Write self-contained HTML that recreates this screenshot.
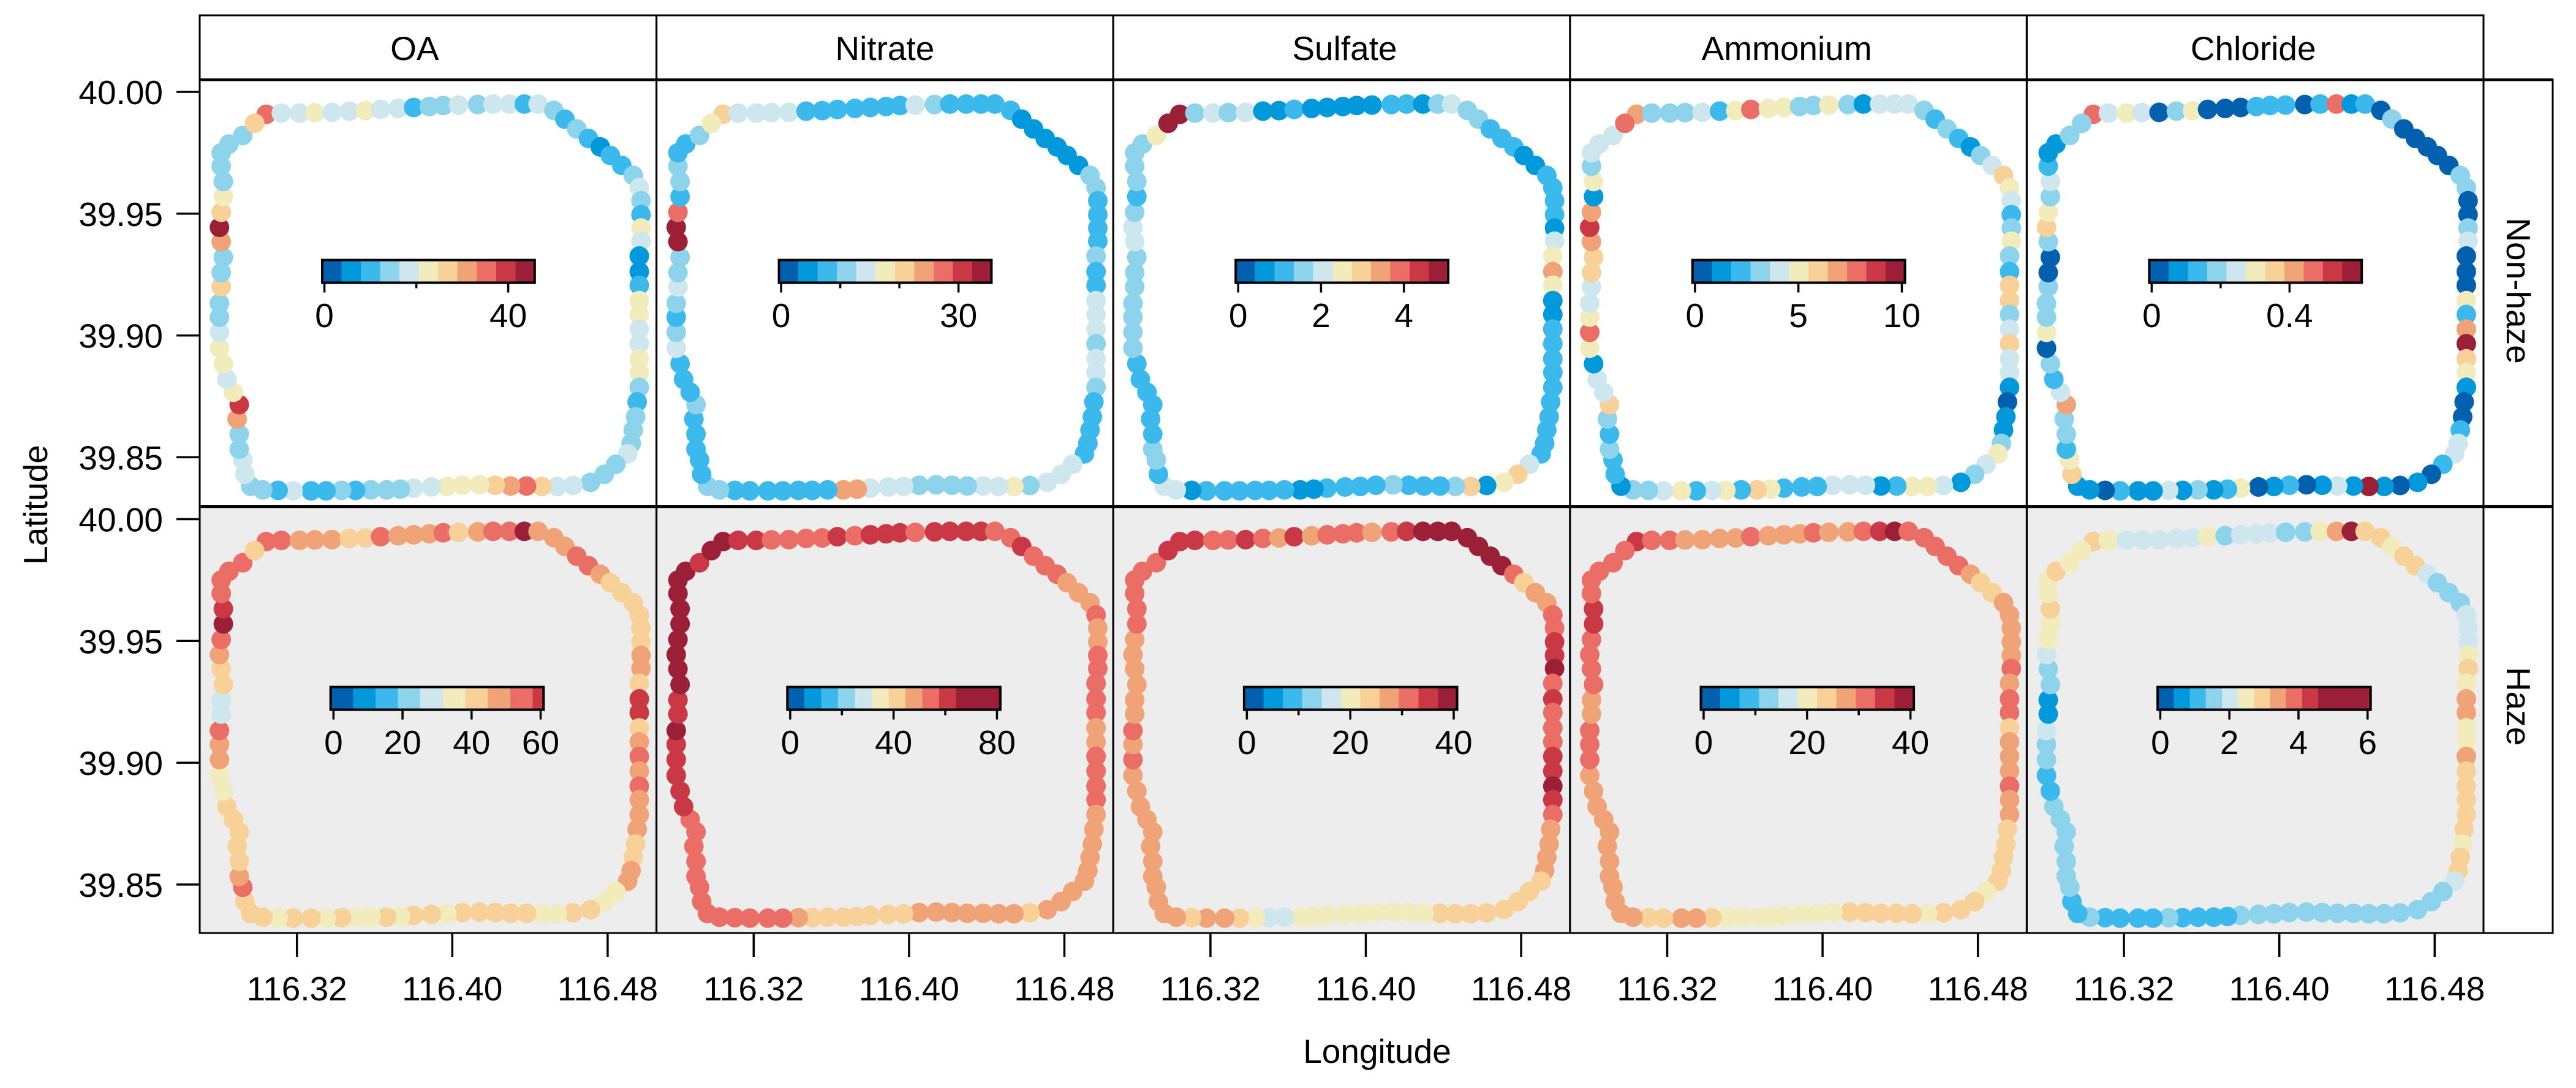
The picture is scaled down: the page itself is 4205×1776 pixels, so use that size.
<!DOCTYPE html>
<html lang="en">
<head>
<meta charset="utf-8">
<title>Aerosol composition along ring road</title>
<style>
html,body{margin:0;padding:0;background:#fff;}
svg{display:block;font-family:"Liberation Sans",Arial,sans-serif;fill:#000;}
</style>
</head>
<body>
<svg id="chart" xmlns="http://www.w3.org/2000/svg" width="4205" height="1776" viewBox="0 0 4205 1776"></svg>
<script>
const speciesLabels = ["OA", "Nitrate", "Sulfate", "Ammonium", "Chloride"];
const conditionLabels = ["Non-haze", "Haze"];
const xTickValues = [116.32, 116.40, 116.48];
const xTickLabels = ["116.32", "116.40", "116.48"];
const yTickValues = [40.00, 39.95, 39.90, 39.85];
const yTickLabels = ["40.00", "39.95", "39.90", "39.85"];
const xAxisTitle = "Longitude";
const yAxisTitle = "Latitude";
const palette = ["#0360ae","#0299dc","#3cb9ec","#8dd3ec","#cee7ef","#f2ebbb","#f7d197","#f1a378","#ea6e66","#cb3845","#9c1f38"];

const routeLon = [116.3042,116.3120,116.3213,116.3292,116.3381,116.3470,116.3553,116.3631,116.3721,116.3801,
116.3882,116.3953,116.4032,116.4131,116.4210,116.4294,116.4371,116.4442,116.4523,116.4580,
116.4641,116.4701,116.4762,116.4814,116.4873,116.4932,116.4963,116.4972,116.4972,116.4972,
116.4972,116.4963,116.4963,116.4963,116.4963,116.4963,116.4963,116.4963,116.4963,116.4963,
116.4963,116.4952,116.4944,116.4932,116.4921,116.4903,116.4842,116.4783,116.4712,116.4622,
116.4540,116.4461,116.4382,116.4300,116.4221,116.4140,116.4052,116.3972,116.3893,116.3800,
116.3733,116.3662,116.3581,116.3502,116.3430,116.3350,116.3273,116.3180,116.3103,116.3024,
116.2962,116.2932,116.2921,116.2903,116.2903,116.2892,116.2903,116.2873,116.2839,116.2821,
116.2801,116.2801,116.2801,116.2801,116.2810,116.2810,116.2821,116.2810,116.2801,116.2810,
116.2821,116.2821,116.2810,116.2810,116.2850,116.2921,116.2982];
const routeLat = [39.9908,39.9913,39.9913,39.9915,39.9916,39.9921,39.9923,39.9928,39.9932,39.9936,
39.9940,39.9944,39.9946,39.9948,39.9950,39.9950,39.9950,39.9950,39.9924,39.9888,
39.9848,39.9809,39.9774,39.9739,39.9698,39.9657,39.9607,39.9553,39.9496,39.9441,
39.9387,39.9326,39.9262,39.9206,39.9143,39.9086,39.9026,39.8966,39.8904,39.8848,
39.8787,39.8727,39.8666,39.8612,39.8557,39.8514,39.8471,39.8430,39.8397,39.8384,
39.8380,39.8380,39.8382,39.8382,39.8385,39.8387,39.8385,39.8380,39.8378,39.8373,
39.8369,39.8366,39.8366,39.8364,39.8364,39.8362,39.8362,39.8362,39.8364,39.8366,
39.8381,39.8430,39.8489,39.8533,39.8595,39.8657,39.8716,39.8767,39.8820,39.8884,
39.8948,39.9013,39.9075,39.9132,39.9200,39.9258,39.9321,39.9385,39.9444,39.9506,
39.9570,39.9632,39.9695,39.9750,39.9786,39.9821,39.9871];

const oaNonHaze = [35.3,18.4,18.4,22.6,18.4,18.4,22.6,18.4,18.4,10,
14.2,14.2,18.4,14.2,18.4,18.4,10,18.4,14.2,10,
14.2,10,5.8,10,10,14.2,18.4,14.2,10,22.6,
18.4,5.8,5.8,10,22.6,22.6,18.4,18.4,22.6,22.6,
14.2,10,14.2,14.2,14.2,18.4,14.2,14.2,14.2,18.4,
18.4,26.8,35.3,31,26.8,22.6,22.6,22.6,18.4,18.4,
14.2,14.2,14.2,10,14.2,10,10,18.4,10,14.2,
14.2,18.4,18.4,14.2,14.2,31,39.5,22.6,18.4,22.6,
22.6,18.4,14.2,14.2,26.8,14.2,14.2,31,43.7,26.8,
22.6,14.2,14.2,14.2,14.2,14.2,26.8];
const nitrateNonHaze = [20.9,14.3,14.3,14.3,14.3,7.8,7.8,7.8,7.8,7.8,
7.8,7.8,14.3,11.1,7.8,7.8,7.8,7.8,7.8,4.5,
4.5,4.5,4.5,4.5,4.5,11.1,11.1,7.8,7.8,7.8,
7.8,11.1,7.8,7.8,14.3,14.3,14.3,11.1,14.3,14.3,
11.1,7.8,7.8,7.8,7.8,7.8,14.3,14.3,14.3,11.1,
17.6,14.3,14.3,11.1,11.1,11.1,11.1,14.3,14.3,14.3,
24.1,24.1,7.8,7.8,7.8,7.8,7.8,7.8,7.8,11.1,
11.1,7.8,7.8,7.8,7.8,7.8,11.1,7.8,7.8,7.8,
14.3,11.1,7.8,11.1,14.3,11.1,11.1,33.9,33.9,27.4,
7.8,11.1,11.1,7.8,7.8,11.1,17.6];
const sulfateNonHaze = [4.84,1.57,2.04,1.57,2.04,0.64,0.64,1.11,0.64,0.64,
0.64,0.64,0.64,1.11,1.11,0.64,1.57,2.04,1.57,1.57,
1.11,1.11,1.11,0.64,0.64,1.11,1.11,1.11,1.11,0.64,
2.04,2.51,3.44,2.51,0.64,0.64,1.11,1.11,1.11,1.11,
1.11,1.11,1.11,1.11,1.11,1.11,2.04,2.97,2.51,0.64,
2.97,1.57,1.11,1.11,1.11,1.57,1.11,1.11,1.11,1.11,
0.64,0.64,1.11,1.11,1.11,1.11,1.11,1.11,0.64,2.04,
2.04,1.11,1.57,1.57,1.11,1.11,1.11,1.11,1.11,1.11,
1.57,1.57,1.57,1.57,1.57,1.57,1.57,2.04,2.04,1.57,
1.11,1.57,1.57,1.57,1.57,2.51,4.84];
const ammoniumNonHaze = [6.88,3.15,3.15,3.15,4.08,2.2,5.02,7.82,5.02,5.02,
3.15,3.15,5.02,3.15,1.28,4.08,4.08,4.08,3.15,2.2,
3.15,2.2,1.28,3.15,4.08,5.95,5.02,4.08,2.2,3.15,
5.02,3.15,2.2,5.95,5.95,3.15,4.08,5.95,4.08,4.08,
1.28,0.35,1.28,1.28,3.15,5.02,4.08,3.15,1.28,4.08,
5.02,5.02,2.2,1.28,4.08,4.08,4.08,2.2,2.2,2.2,
5.02,5.95,2.2,5.02,4.08,2.2,5.02,4.08,3.15,3.15,
1.28,2.2,2.2,3.15,2.2,3.15,5.95,4.08,4.08,1.28,
5.02,7.82,5.02,4.08,4.08,5.95,5.95,6.88,8.75,6.88,
1.28,5.02,3.15,4.08,4.08,4.08,7.82];
const chlorideNonHaze = [0.469,0.245,0.301,0.245,0.021,0.189,0.301,0.021,0.021,0.021,
0.133,0.133,0.133,0.021,0.133,0.469,0.077,0.133,0.021,0.189,
0.021,0.021,0.021,0.021,0.021,0.189,0.189,0.021,0.021,0.189,
0.245,0.021,0.021,0.021,0.301,0.133,0.413,0.581,0.357,0.301,
0.077,0.021,0.021,0.133,0.245,0.245,0.133,0.021,0.077,0.021,
0.077,0.581,0.077,0.245,0.077,0.021,0.133,0.077,0.021,0.301,
0.133,0.077,0.189,0.077,0.245,0.077,0.077,0.133,0.021,0.077,
0.077,0.357,0.301,0.133,0.189,0.189,0.413,0.245,0.133,0.189,
0.021,0.301,0.189,0.189,0.189,0.021,0.021,0.189,0.357,0.301,
0.189,0.245,0.133,0.077,0.077,0.189,0.189];
const oaHaze = [54.4,54.4,47.9,47.9,47.9,41.4,41.4,54.4,47.9,47.9,
47.9,54.4,41.4,47.9,54.4,54.4,66,47.9,47.9,47.9,
54.4,54.4,47.9,41.4,41.4,41.4,41.4,41.4,41.4,47.9,
47.9,41.4,59,59,41.4,47.9,54.4,47.9,54.4,47.9,
47.9,47.9,41.4,41.4,47.9,47.9,34.9,34.9,41.4,41.4,
34.9,34.9,41.4,41.4,41.4,41.4,41.4,34.9,41.4,41.4,
34.9,41.4,34.9,34.9,41.4,34.9,41.4,41.4,34.9,41.4,
41.4,41.4,54.4,47.9,41.4,41.4,41.4,41.4,41.4,34.9,
34.9,47.9,47.9,54.4,28.4,28.4,41.4,41.4,47.9,54.4,
66,59,54.4,54.4,54.4,54.4,41.4];
const nitrateHaze = [72,60.8,60.8,54.3,54.3,54.3,54.3,60.8,54.3,60.8,
60.8,60.8,54.3,60.8,60.8,60.8,60.8,54.3,54.3,60.8,
54.3,54.3,54.3,47.8,47.8,47.8,54.3,47.8,47.8,54.3,
54.3,54.3,54.3,54.3,47.8,47.8,54.3,54.3,54.3,54.3,
47.8,47.8,47.8,47.8,47.8,47.8,47.8,47.8,47.8,41.3,
47.8,47.8,47.8,47.8,47.8,47.8,47.8,41.3,41.3,41.3,
41.3,41.3,41.3,41.3,47.8,54.3,54.3,54.3,54.3,54.3,
54.3,54.3,54.3,54.3,54.3,54.3,54.3,54.3,60.8,60.8,
60.8,60.8,60.8,72,60.8,60.8,72,72,72,72,
72,72,72,72,72,60.8,72];
const sulfateHaze = [35,35,31.3,31.3,35,31.3,27.5,35,27.5,31.3,
31.3,31.3,27.5,31.3,35,38.8,38.8,38.8,38.8,38.8,
38.8,38.8,31.3,23.8,27.5,27.5,31.3,31.3,35,35,
38.8,31.3,35,31.3,31.3,31.3,35,35,38.8,35,
31.3,27.5,27.5,27.5,27.5,23.8,23.8,23.8,23.8,23.8,
23.8,23.8,23.8,20.1,20.1,20.1,20.1,20.1,20.1,20.1,
20.1,20.1,16.3,16.3,20.1,23.8,27.5,27.5,23.8,27.5,
27.5,27.5,27.5,27.5,27.5,27.5,27.5,27.5,27.5,27.5,
27.5,31.3,27.5,31.3,27.5,27.5,27.5,27.5,27.5,27.5,
31.3,31.3,31.3,31.3,31.3,31.3,35];
const ammoniumHaze = [35,31.3,31.3,27.5,27.5,27.5,27.5,31.3,27.5,27.5,
27.5,31.3,27.5,27.5,31.3,35,38.8,31.3,31.3,31.3,
31.3,31.3,27.5,23.8,23.8,27.5,27.5,27.5,27.5,27.5,
31.3,27.5,31.3,31.3,23.8,27.5,27.5,27.5,31.3,27.5,
27.5,23.8,23.8,23.8,23.8,23.8,20.1,23.8,23.8,23.8,
20.1,23.8,23.8,23.8,23.8,23.8,20.1,20.1,20.1,20.1,
20.1,20.1,20.1,20.1,23.8,27.5,27.5,23.8,23.8,27.5,
27.5,27.5,27.5,27.5,27.5,27.5,27.5,27.5,27.5,27.5,
27.5,31.3,31.3,31.3,27.5,27.5,31.3,31.3,31.3,31.3,
35,35,31.3,31.3,31.3,31.3,31.3];
const chlorideHaze = [2.94,2.48,2.01,2.01,2.01,2.01,2.01,2.48,1.55,2.01,
2.01,2.01,1.55,1.55,2.48,3.41,5.3,2.94,2.94,2.48,
2.94,2.94,2.01,1.55,1.55,1.55,2.01,2.01,2.01,2.48,
2.94,2.48,3.41,3.41,2.48,2.48,3.41,2.94,2.94,2.94,
2.94,2.94,2.48,2.94,2.94,2.01,1.55,1.55,1.55,1.55,
1.55,1.55,1.55,1.55,1.55,1.55,1.55,1.55,1.55,1.55,
1.09,1.09,1.09,1.09,1.55,1.09,1.09,1.09,1.09,1.55,
1.09,1.09,1.55,1.55,1.55,1.55,1.55,1.55,1.55,1.09,
1.09,1.55,1.55,2.01,0.62,0.62,1.55,1.55,2.01,2.48,
2.48,2.94,2.48,2.48,2.94,2.48,2.48];

const nonHazeSeries = [oaNonHaze, nitrateNonHaze, sulfateNonHaze, ammoniumNonHaze, chlorideNonHaze];
const hazeSeries = [oaHaze, nitrateHaze, sulfateHaze, ammoniumHaze, chlorideHaze];

const nonHazeScaleLow = [-0.48, -0.36, -0.059, -0.118, -0.0071];
const nonHazeScaleHigh = [45.76, 35.57, 5.07, 10.15, 0.6094];
const nonHazeBinWidth = [4.204, 3.267, 0.4664, 0.9336, 0.056];
const hazeScaleLow = [-0.83, -1.09, -0.53, -0.53, -0.076];
const hazeScaleHigh = [60.85, 81.3, 40.65, 40.65, 6.087];
const hazeBinWidth = [6.5, 6.52, 3.744, 3.744, 0.4645];

const nonHazeMajorTicks = [[0,40],[0,30],[0,2,4],[0,5,10],[0,0.4]];
const nonHazeMinorTicks = [[20],[10,20],[],[],[0.2]];
const hazeMajorTicks = [[0,20,40,60],[0,40,80],[0,20,40],[0,20,40],[0,2,4,6]];
const hazeMinorTicks = [[],[20,60],[10,30],[10,30],[]];

const svg = document.getElementById('chart');
const NS = 'http://www.w3.org/2000/svg';
const PANEL_LEFT = 326, PANEL_W = 745.6, STRIP_TOP = 25;
const ROW_TOPS = [130, 827, 1523];
const ROW_ORIGINS = [150, 847.5];
const BAR_LEFT = [200, 213.7];
const BAR_W = [346.8, 347.6];
const BAR_TOP = 294.5, BAR_H = 37;
const RIGHT_STRIP = 113;
const DOT_R = 16;
const STRIP_LABEL_SHIFT = [-22, 0, 5, -19, -3];
const ROW_LABEL_SHIFT = [-4, -22];

function make(tag, attrs, parent) {
  const el = document.createElementNS(NS, tag);
  for (const k in attrs) el.setAttribute(k, attrs[k]);
  parent.appendChild(el);
  return el;
}
function xScale(lon, col) { return PANEL_LEFT + col * PANEL_W + 158.7 + (lon - 116.32) * 3170; }
function yScale(lat, row) { return ROW_ORIGINS[row] + (40 - lat) * 3976; }
function binIndex(v, lo, step) { return Math.max(0, Math.min(10, Math.floor((v - lo) / step))); }

const panelRight = PANEL_LEFT + 5 * PANEL_W;

for (let r = 0; r < 2; r++) {
  const lows = r ? hazeScaleLow : nonHazeScaleLow;
  const highs = r ? hazeScaleHigh : nonHazeScaleHigh;
  const steps = r ? hazeBinWidth : nonHazeBinWidth;
  const majors = r ? hazeMajorTicks : nonHazeMajorTicks;
  const minors = r ? hazeMinorTicks : nonHazeMinorTicks;
  const series = r ? hazeSeries : nonHazeSeries;
  for (let c = 0; c < 5; c++) {
    const left = PANEL_LEFT + c * PANEL_W;
    const top = ROW_TOPS[r];
    const g = make('g', {}, svg);
    
    
    const bg = make('rect', {x: left, y: top, width: PANEL_W, height: ROW_TOPS[r + 1] - top, fill: r ? '#ededed' : '#ffffff'}, g);
    
    

    series[c].forEach(function (v, i) {
      const dot = make('circle', {cx: xScale(routeLon[i], c).toFixed(2), cy: yScale(routeLat[i], r).toFixed(2), r: DOT_R, fill: palette[binIndex(v, lows[c], steps[c])]}, g);
      
      
    });

    const barG = make('g', {}, g);
    
    
    const bx0 = left + BAR_LEFT[r], bw = BAR_W[r], by = top + BAR_TOP;
    const barX = function (v) { return bx0 + (v - lows[c]) / (highs[c] - lows[c]) * bw; };
    for (let b = 0; b < 11; b++) {
      const start = lows[c] + b * steps[c];
      if (start >= highs[c]) break;
      const end = b === 10 ? highs[c] : Math.min(highs[c], start + steps[c]);
      const seg = make('rect', {x: barX(start).toFixed(2), y: by, width: (barX(end) - barX(start)).toFixed(2), height: BAR_H, fill: palette[b], 'shape-rendering': 'crispEdges'}, barG);
      
      
    }
    const frame = make('rect', {x: bx0, y: by, width: bw, height: BAR_H, fill: 'none', stroke: '#000', 'stroke-width': 4}, barG);
    
    
    minors[c].forEach(function (v) {
      const t = make('line', {x1: barX(v), x2: barX(v), y1: by + BAR_H, y2: by + BAR_H + 9, stroke: '#000', 'stroke-width': 3.5}, barG);
      
      
    });
    majors[c].forEach(function (v) {
      const t = make('line', {x1: barX(v), x2: barX(v), y1: by + BAR_H, y2: by + BAR_H + 16, stroke: '#000', 'stroke-width': 3.5}, barG);
      
      
      const lab = make('text', {x: barX(v), y: top + 404, 'text-anchor': 'middle', 'font-size': 55}, barG);
      lab.textContent = String(v);
      
      
    });
  }
}

/* strip boxes and panel frames */
const frameG = make('g', {fill: 'none', stroke: '#000', 'stroke-width': 3}, svg);


for (let c = 0; c < 5; c++) {
  const left = PANEL_LEFT + c * PANEL_W;
  make('rect', {x: left, y: STRIP_TOP, width: PANEL_W, height: ROW_TOPS[0] - STRIP_TOP}, frameG);
  make('rect', {x: left, y: ROW_TOPS[0], width: PANEL_W, height: ROW_TOPS[1] - ROW_TOPS[0]}, frameG);
  make('rect', {x: left, y: ROW_TOPS[1], width: PANEL_W, height: ROW_TOPS[2] - ROW_TOPS[1]}, frameG);
}
make('rect', {x: panelRight, y: ROW_TOPS[0], width: RIGHT_STRIP, height: ROW_TOPS[1] - ROW_TOPS[0]}, frameG);
make('rect', {x: panelRight, y: ROW_TOPS[1], width: RIGHT_STRIP, height: ROW_TOPS[2] - ROW_TOPS[1]}, frameG);
const stripRule = make('line', {x1: PANEL_LEFT, x2: panelRight + RIGHT_STRIP, y1: 130.2, y2: 130.2, stroke: '#000', 'stroke-width': 4.3}, svg);


const rowRule = make('line', {x1: PANEL_LEFT, x2: panelRight + RIGHT_STRIP, y1: 826.7, y2: 826.7, stroke: '#000', 'stroke-width': 5.2}, svg);



speciesLabels.forEach(function (name, c) {
  const t = make('text', {x: PANEL_LEFT + (c + 0.5) * PANEL_W + STRIP_LABEL_SHIFT[c], y: 98, 'text-anchor': 'middle', 'font-size': 55}, svg);
  t.textContent = name;
  
  
});
conditionLabels.forEach(function (name, r) {
  const cy = (ROW_TOPS[r] + ROW_TOPS[r + 1]) / 2 + ROW_LABEL_SHIFT[r];
  const t = make('text', {x: 0, y: 0, transform: 'translate(' + (panelRight + 38) + ' ' + cy + ') rotate(90)', 'text-anchor': 'middle', 'font-size': 55}, svg);
  t.textContent = name;
  
  
});

/* y axis */
for (let r = 0; r < 2; r++) {
  yTickValues.forEach(function (v, i) {
    const y = yScale(v, r);
    const t = make('line', {x1: PANEL_LEFT - 38, x2: PANEL_LEFT, y1: y, y2: y, stroke: '#000', 'stroke-width': 3.5}, svg);
    
    
    const lab = make('text', {x: 266, y: y + 20, 'text-anchor': 'end', 'font-size': 55}, svg);
    lab.textContent = yTickLabels[i];
    
    
  });
}

/* x axis */
for (let c = 0; c < 5; c++) {
  xTickValues.forEach(function (v, i) {
    const x = xScale(v, c);
    const t = make('line', {x1: x, x2: x, y1: ROW_TOPS[2], y2: ROW_TOPS[2] + 39, stroke: '#000', 'stroke-width': 3.5}, svg);
    
    
    const lab = make('text', {x: x, y: 1633, 'text-anchor': 'middle', 'font-size': 55}, svg);
    lab.textContent = xTickLabels[i];
    
    
  });
}

const xTitle = make('text', {x: 2248, y: 1735, 'text-anchor': 'middle', 'font-size': 55}, svg);
xTitle.textContent = xAxisTitle;


const yTitle = make('text', {x: 0, y: 0, transform: 'translate(77 824) rotate(-90)', 'text-anchor': 'middle', 'font-size': 55}, svg);
yTitle.textContent = yAxisTitle;


</script>
</body>
</html>
